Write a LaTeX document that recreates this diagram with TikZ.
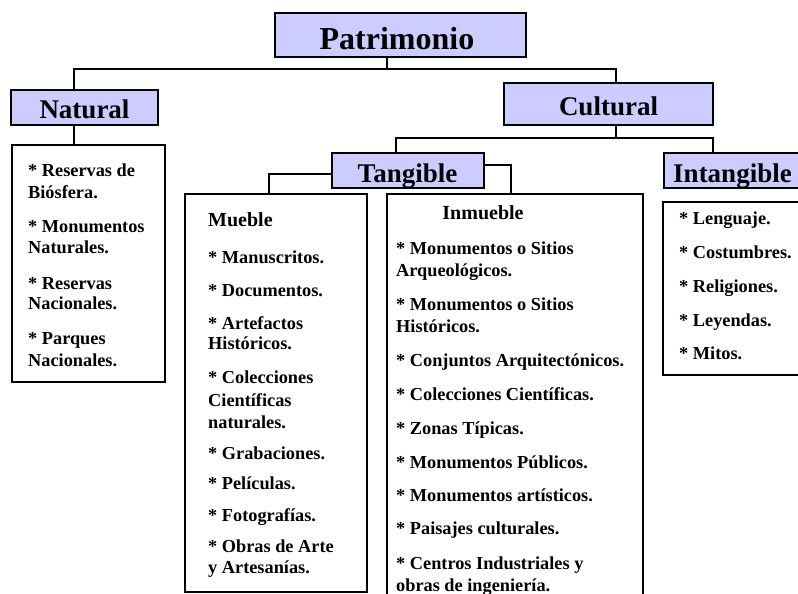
\documentclass[tikz,border=0pt]{standalone}
\usepackage{fontspec}
\setmainfont{Liberation Serif}
\definecolor{lav}{RGB}{204,204,255}
\begin{document}
\begin{tikzpicture}[x=1pt,y=-1pt,
  tbox/.style={draw=black,fill=lav,line width=2pt,inner sep=0pt},
  lbox/.style={draw=black,fill=white,line width=2pt,inner sep=0pt},
  conn/.style={draw=black,line width=2pt},
  ttl/.style={anchor=base,inner sep=0pt,font=\fontsize{27}{30}\selectfont\bfseries},
  hdr/.style={inner sep=0pt,font=\fontsize{20}{24}\selectfont\bfseries},
  itm/.style={anchor=base west,inner sep=0pt,font=\fontsize{18.3}{21}\selectfont\bfseries}]
\clip (0,0) rectangle (798,594);
\fill[white] (0,0) rectangle (798,594);
% title boxes
\node[tbox,minimum width=251pt,minimum height=44pt] (patr) at (400.5,35) {};
\node[tbox,minimum width=147pt,minimum height=35pt] (nat) at (84.5,107.5) {};
\node[tbox,minimum width=209pt,minimum height=42pt] (cult) at (608.5,104) {};
\node[tbox,minimum width=152pt,minimum height=35pt] (tang) at (408,170.5) {};
\node[tbox,minimum width=140pt,minimum height=35pt] (intang) at (734,170.5) {};
% list boxes
\node[lbox,minimum width=153pt,minimum height=237pt] (natlist) at (88.5,263.5) {};
\node[lbox,minimum width=182pt,minimum height=398pt] (mueble) at (276,393) {};
\node[lbox,minimum width=256pt,minimum height=420pt] (inm) at (515,404) {};
\node[lbox,minimum width=140pt,minimum height=173pt] (intlist) at (733,288.5) {};
% title texts
\node[ttl,font=\fontsize{32}{36}\selectfont\bfseries] (patrT) at (397,50) {Patrimonio};
\node[ttl] (natT) at (84.5,118) {Natural};
\node[ttl] (cultT) at (608.5,115) {Cultural};
\node[ttl] (tangT) at (407.5,182) {Tangible};
\node[ttl] (intangT) at (732.5,182) {Intangible};
% connectors
\coordinate (jP) at (387,69);
\coordinate (jN) at (74,69);
\coordinate (jC) at (616,69);
\draw[conn] (patr.south -| jP) -- (jP);
\draw[conn] (nat.north -| jN) |- (jC) -- (cult.north -| jC);
\draw[conn] (nat.south -| jN) -- (natlist.north -| jN);
\coordinate (kC) at (616,138);
\coordinate (kT) at (396,138);
\coordinate (kI) at (713,138);
\draw[conn] (cult.south -| kC) -- (kC);
\draw[conn] (tang.north -| kT) |- (kI) -- (intang.north -| kI);
\coordinate (mT) at (269,174);
\coordinate (mI) at (511,165);
\draw[conn] (tang.west |- mT) -| (mueble.north -| mT);
\draw[conn] (tang.east |- mI) -| (inm.north -| mI);
% Natural list
\foreach \y/\t [count=\i] in {176/{* Reservas de},198/{Biósfera.},232/{* Monumentos},253/{Naturales.},289/{* Reservas},309/{Nacionales.},344/{* Parques},366/{Nacionales.}}
  \node[itm] (na\i) at (28,\y) {\t};
% Mueble
\node[hdr,anchor=base west] (muebleH) at (208,226) {Mueble};
\foreach \y/\t [count=\i] in {263/{* Manuscritos.},296/{* Documentos.},329/{* Artefactos},349/{Históricos.},383/{* Colecciones},406/{Científicas},428/{naturales.},459/{* Grabaciones.},489/{* Películas.},521/{* Fotografías.},552/{* Obras de Arte},573/{y Artesanías.}}
  \node[itm] (mu\i) at (208,\y) {\t};
% Inmueble
\node[hdr,anchor=base] (inmH) at (483,219) {Inmueble};
\foreach \y/\t [count=\i] in {254/{* Monumentos o Sitios},276/{Arqueológicos.},310/{* Monumentos o Sitios},332/{Históricos.},366.5/{* Conjuntos Arquitectónicos.},400/{* Colecciones Científicas.},434/{* Zonas Típicas.},468/{* Monumentos Públicos.},501/{* Monumentos artísticos.},534/{* Paisajes culturales.},569/{* Centros Industriales y},591/{obras de ingeniería.}}
  \node[itm] (in\i) at (396,\y) {\t};
% Intangible list
\foreach \y/\t [count=\i] in {224/{* Lenguaje.},258/{* Costumbres.},292/{* Religiones.},326/{* Leyendas.},359/{* Mitos.}}
  \node[itm] (it\i) at (679,\y) {\t};
\end{tikzpicture}
\end{document}
